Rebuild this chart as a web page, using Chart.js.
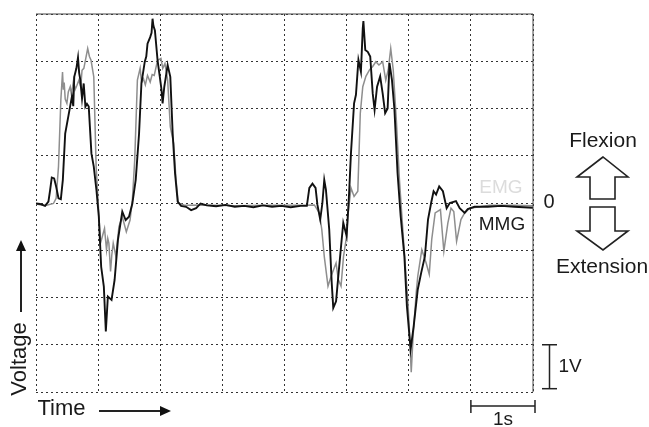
<!DOCTYPE html>
<html>
<head>
<meta charset="utf-8">
<title>EMG / MMG</title>
<script src="https://cdn.jsdelivr.net/npm/chart.js@4"></script>
<style>
  html, body { margin: 0; padding: 0; background: #fff; }
  canvas { display: block; }
</style>
</head>
<body>
<canvas id="grafico" width="649" height="427"></canvas>
<script>
// valores: tempo em segundos, tensão em volts
const mmgTime = [
  0,.065,.146,.2,.227,.254,.292,.324,.362,.4,.432,.47,.524,.578,.6,.616,.65,.676,.695,.714,.741,.768,.795,.82,.849,.892,.93,.973,
  1.011,1.049,1.092,1.124,1.157,1.216,1.265,1.319,1.389,1.443,1.497,1.551,1.605,1.659,1.697,1.751,1.775,1.795,1.838,1.86,1.876,1.89,1.914,1.957,2,2.02,2.038,2.065,2.119,2.162,2.2,2.238,2.281,2.335,2.416,2.497,2.578,2.649,
  2.75,2.9,3.05,3.2,3.35,3.5,3.65,3.8,3.95,4.1,4.26,4.36,4.4,4.45,4.5,4.53,4.575,4.61,4.64,4.667,4.72,4.76,4.785,4.83,4.866,4.91,4.946,
  5,5.04,5.07,5.12,5.15,5.19,5.23,5.26,5.27,5.3,5.34,5.38,5.42,5.45,5.49,5.54,5.58,5.62,5.66,5.69,5.73,5.77,5.82,5.87,5.93,5.97,
  6.03,6.08,6.145,6.2,6.26,6.31,6.36,6.4,6.44,6.49,6.55,6.61,6.66,6.76,6.82,6.9,6.95,7.06,7.27,7.49,7.7,8
];
const mmgVolts = [
  -.01,-.02,-.06,.03,.27,.54,.52,.35,.1,.08,.49,1.47,1.86,2.25,2.05,2.67,2.85,3.08,2.75,2.6,2.21,2.53,2.04,2.1,2.04,1.05,.77,.27,
  -.29,-1.35,-1.77,-2.72,-1.98,-2.05,-1.63,-.78,-.18,-.36,-.29,-.01,.49,1.47,2.53,2.99,3.1,3.37,3.51,3.6,3.9,3.75,3.65,3.02,2.6,2.4,2.11,2.46,2.92,2.67,1.47,.63,.03,-.06,-.08,-.15,-.11,-.01,
  -.05,-.07,-.04,-.08,-.06,-.09,-.05,-.08,-.06,-.09,-.06,-.06,.32,.41,.32,-.04,-.35,0,.49,.28,-.56,-1.69,-2.22,-2.08,-1.55,-.92,-.42,
  -.7,.21,1.06,2.11,2.29,3.03,2.78,3.7,3.85,3.24,3.2,3.1,2.32,1.97,2.46,2.68,2.32,1.9,2,2.96,2.6,1.97,.63,-.28,-1.13,-2.18,
  -3.1,-2.6,-1.83,-1.48,-1.13,-.35,0,.25,.18,.35,.25,-.11,0,.04,-.11,-.21,-.13,-.08,-.08,-.06,-.08,-.1
];
const emgTime = [
  0,.146,.281,.324,.362,.4,.427,.44,.454,.47,.497,.52,.551,.57,.605,.63,.659,.69,.72,.741,.77,.795,.832,.86,.886,.93,.968,
  1.011,1.038,1.07,1.103,1.135,1.155,1.173,1.2,1.22,1.243,1.286,1.335,1.389,1.454,1.514,1.551,1.589,1.632,1.676,1.7,1.73,1.76,1.795,1.838,1.87,1.903,1.957,2.011,2.04,2.076,2.119,2.162,2.216,2.254,2.29,2.4,2.7,3.2,3.7,4.2,4.48,4.56,4.6,4.64,4.7,4.75,4.83,4.866,4.91,4.95,
  5,5.02,5.07,5.12,5.18,5.22,5.26,5.31,5.37,5.42,5.47,5.52,5.58,5.63,5.67,5.71,5.75,5.8,5.85,5.93,5.99,
  6.01,6.04,6.07,6.12,6.145,6.21,6.28,6.33,6.37,6.425,6.51,6.565,6.63,6.68,6.725,6.77,6.84,6.9,6.98,7.3,7.7,8
];
const emgVolts = [
  -.02,-.06,-.01,.1,.77,2.18,2.77,2.4,2.55,2.2,2.11,2.35,2.46,2.3,2.6,2.4,2.49,2.6,2.45,2.81,2.85,3.02,3.27,3.1,3.02,2.67,.77,
  -.22,-.85,-.7,-.54,-.99,-.75,-.85,-1.45,-1.1,-.85,-1.13,-.5,-.29,-.61,-.36,.06,.91,2.6,2.85,2.55,2.63,2.5,2.7,2.56,2.72,2.7,3.02,3.06,2.85,2.95,2.6,1.61,1.26,.49,0,-.05,-.04,-.06,-.05,-.05,-.04,-.21,-.56,-1.13,-1.76,-1.55,-1.27,-1.62,-1.76,-1.13,
  -.7,-.28,.32,.14,.25,1.9,2.46,2.68,2.82,2.89,2.99,2.92,2.99,2.6,2.82,3.27,2.82,1.76,.49,-1.06,-2.18,
  -2.68,-3.58,-2.82,-1.9,-1.55,-.99,-1.27,-1.51,-.77,-.21,-.14,-1.02,-.42,-.11,-.18,-.81,-.35,-.21,-.11,-.05,-.05,-.06
];
const xTicks = [0, 1, 2, 3, 4, 5, 6, 7, 8];
const yTicks = [-4, -3, -2, -1, 0, 1, 2, 3, 4];

const FONTE = '"Liberation Sans", Arial, sans-serif';

function pares(xs, ys) {
  return xs.map((x, i) => ({ x: x, y: ys[i] }));
}

// textos, setas e barras de escala em volta da área do gráfico
const anotacoes = {
  id: 'anotacoes',
  afterDraw(chart) {
    const c = chart.ctx;
    const sx = chart.scales.x, sy = chart.scales.y, area = chart.chartArea;
    const texto = (t, x, y, tam, cor) => {
      c.font = tam + 'px ' + FONTE;
      c.fillStyle = cor || '#1a1a1a';
      c.textAlign = 'center';
      c.textBaseline = 'middle';
      c.fillText(t, x, y);
    };
    const linha = (pts, fechar) => {
      c.beginPath();
      pts.forEach((p, i) => i ? c.lineTo(p[0], p[1]) : c.moveTo(p[0], p[1]));
      if (fechar) c.closePath();
      c.stroke();
    };

    c.save();
    c.setLineDash([]);

    // moldura sólida em cima e à direita
    c.lineWidth = 1;
    c.strokeStyle = '#444';
    linha([[area.left, area.top], [area.right, area.top], [area.right, area.bottom]]);
    c.strokeStyle = '#222';

    texto('EMG', 501, 188, 19, '#dcdcdc');
    texto('MMG', 502, 225, 19);
    texto('0', 549, 202, 20);
    texto('Flexion', 603, 141, 21);
    texto('Extension', 602, 267, 21);
    texto('Time', 61.5, 409, 22);
    texto('1V', 570, 367, 19);
    texto('1s', 503, 420, 19);

    c.save();
    c.translate(20, 359);
    c.rotate(-Math.PI / 2);
    texto('Voltage', 0, 0, 22);
    c.restore();

    // setas de flexão e extensão
    c.lineWidth = 1.6;
    linha([[603, 157], [577, 177], [590, 177], [590, 199], [615, 199], [615, 177], [628, 177]], true);
    linha([[590, 207], [615, 207], [615, 231], [628, 231], [603, 250], [577, 231], [590, 231]], true);

    // setas dos eixos
    c.lineWidth = 2;
    linha([[21, 312], [21, 250]]);
    linha([[99, 411], [162, 411]]);
    c.fillStyle = '#111';
    c.beginPath(); c.moveTo(21, 240); c.lineTo(16, 251); c.lineTo(26, 251); c.closePath(); c.fill();
    c.beginPath(); c.moveTo(171, 411); c.lineTo(160, 406); c.lineTo(160, 416); c.closePath(); c.fill();

    // barras de escala: 1 V e 1 s
    c.lineWidth = 1.5;
    const y1 = sy.getPixelForValue(-3), y2 = sy.getPixelForValue(-3.93);
    linha([[549.5, y1], [549.5, y2]]);
    linha([[542, y1], [557, y1]]);
    linha([[542, y2], [557, y2]]);
    const x1 = sx.getPixelForValue(7), x2 = sx.getPixelForValue(8);
    linha([[x1, 406], [x2 + 2, 406]]);
    linha([[x1, 400], [x1, 413]]);
    linha([[x2 + 2, 400], [x2 + 2, 413]]);
    c.restore();
  }
};

new Chart(document.getElementById('grafico').getContext('2d'), {
  type: 'line',
  data: {
    datasets: [
      { label: 'MMG', data: pares(mmgTime, mmgVolts), borderColor: '#111', borderWidth: 1.9, pointRadius: 0, tension: 0 },
      { label: 'EMG', data: pares(emgTime, emgVolts), borderColor: '#8e8e8e', borderWidth: 1.5, pointRadius: 0, tension: 0 }
    ]
  },
  options: {
    responsive: false,
    animation: false,
    layout: { padding: { left: 36, right: 116, top: 14, bottom: 35 } },
    plugins: { legend: { display: false }, tooltip: { enabled: false } },
    scales: {
      x: {
        type: 'linear', min: xTicks[0], max: xTicks[xTicks.length - 1],
        afterBuildTicks: axis => { axis.ticks = xTicks.map(v => ({ value: v })); },
        ticks: { display: false },
        border: { display: false, dash: [2, 3] },
        grid: { color: '#333', lineWidth: 1, drawTicks: false }
      },
      y: {
        type: 'linear', min: yTicks[0], max: yTicks[yTicks.length - 1],
        afterBuildTicks: axis => { axis.ticks = yTicks.map(v => ({ value: v })); },
        ticks: { display: false },
        border: { display: false, dash: [2, 3] },
        grid: { color: '#333', lineWidth: 1, drawTicks: false }
      }
    }
  },
  plugins: [anotacoes]
});
</script>
</body>
</html>
